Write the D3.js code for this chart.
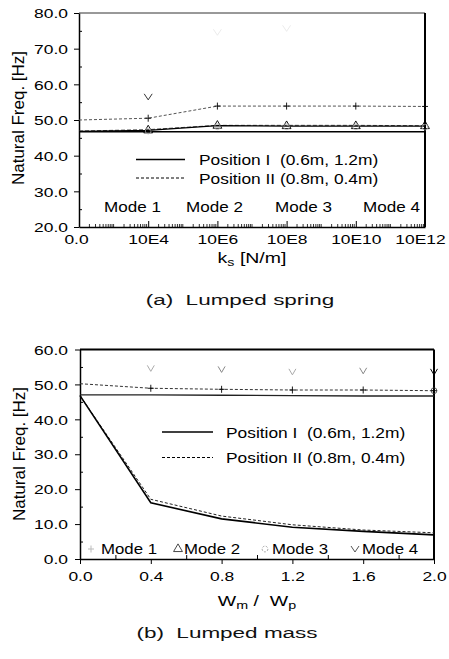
<!DOCTYPE html>
<html><head><meta charset="utf-8">
<script src="https://cdn.jsdelivr.net/npm/d3@7"></script>
<style>body{margin:0;background:#fff}svg{display:block}</style>
</head><body>
<script>
// ---------------- data ----------------
const springCats = ["0.0","10E4","10E6","10E8","10E10","10E12"];
const springP1Mode1 = [46.7,46.7,46.7,46.7,46.7,46.7];
const springP1Mode2 = [46.8,47.1,48.4,48.3,48.3,48.3];
const springP2Mode2 = [46.9,47.3,48.5,48.5,48.5,48.4];
const springP2Mode3 = [50.0,50.5,53.9,53.9,53.9,53.8];
const springMode4   = [null,56.5,74.6,75.7,null,null];
const springYTicks  = [20,30,40,50,60,70,80];

const massX        = [0,0.4,0.8,1.2,1.6,2.0];
const massP1Mode1  = [46.8,16.1,11.5,9.1,7.9,6.9];
const massP2Mode1  = [46.8,17.1,12.3,9.8,8.3,7.5];
const massP1Mode2  = [47.0,47.0,46.9,46.8,46.7,46.7];
const massP2Mode3  = [50.2,48.9,48.6,48.4,48.4,48.2];
const massMode3Pts = [null,null,null,null,null,48.2];
const massMode4    = [null,54.6,54.3,53.6,53.9,53.6];
const massXTicks   = [0,0.4,0.8,1.2,1.6,2.0];
const massYTicks   = [0,10,20,30,40,50,60];

const legendLines = ["Position I  (0.6m, 1.2m)","Position II (0.8m, 0.4m)"];
const modeNames   = ["Mode 1","Mode 2","Mode 3","Mode 4"];
const captions    = ["(a)  Lumped spring","(b)  Lumped mass"];

// ---------------- helpers ----------------
const FF = "'Liberation Sans', Arial, Helvetica, sans-serif";
const svg = d3.select("body").append("svg").attr("width",449).attr("height",659);

function T(parent, x, y, str, o = {}) {
  const g = parent.append("g").attr("transform", `translate(${x},${y}) scale(${o.sx||1},1)`);
  const t = g.append("text")
    .attr("font-family", o.ff || FF)
    .attr("font-size", o.fs || 13)
    .attr("text-anchor", o.anchor || "start")
    .attr("fill", o.fill || "#000")
    .style("white-space", "pre");
  if (o.ls) t.attr("letter-spacing", o.ls);
  if (str != null) t.text(str);
  return t;
}
const triUp = d3.symbol(d3.symbolTriangle, 34)();
const circ  = d3.symbol(d3.symbolCircle, 26)();
const plus  = "M-3,0H3M0,-3.5V3.5";

function markers(g, xs, ys, x, y, path, o = {}) {
  const pts = xs.map((xv, i) => [xv, ys[i]]).filter(d => d[1] != null);
  g.selectAll(null).data(pts).join("path")
    .attr("d", path)
    .attr("transform", d => `translate(${x(d[0])},${y(d[1])})`)
    .attr("fill", "none")
    .attr("stroke", (d, i) => (o.colors ? o.colors[i] : (o.stroke || "#000")))
    .attr("stroke-width", o.sw || 1);
}
function series(g, xs, ys, x, y, o = {}) {
  const line = d3.line().defined(d => d[1] != null).x(d => x(d[0])).y(d => y(d[1]));
  g.append("path").datum(xs.map((xv, i) => [xv, ys[i]]))
    .attr("d", line).attr("fill", "none")
    .attr("stroke", o.stroke || "#000")
    .attr("stroke-width", o.sw || 1.5)
    .attr("stroke-dasharray", o.dash || null);
}

// =============== (a) Lumped spring ===============
{
  const g = svg.append("g");
  const x = d3.scalePoint().domain(springCats).range([79, 425]);
  const xi = d3.scaleLinear().domain([0, springCats.length - 1]).range([79, 425]);
  const y = d3.scaleLinear().domain([20, 80]).range([227, 13]);

  g.append("line").attr("x1", 79).attr("x2", 425).attr("y1", 13).attr("y2", 13).attr("stroke", "#333").attr("stroke-width", 1);
  g.append("line").attr("x1", 425).attr("x2", 425).attr("y1", 13).attr("y2", 227).attr("stroke", "#000").attr("stroke-width", 2);

  const ya = g.append("g").attr("transform", "translate(79,0)")
    .call(d3.axisLeft(y).tickValues(springYTicks).tickSize(5).tickSizeOuter(0).tickPadding(11).tickFormat(d3.format(".1f")));
  ya.select(".domain").attr("stroke-width", 1.5);
  ya.selectAll("text").attr("font-family", FF).attr("font-size", 13).attr("fill", "#000")
    .attr("transform", "scale(1.34,1)").attr("x", -11 / 1.34).attr("dy", "0.36em");
  g.append("g").attr("transform", "translate(79,0)")
    .call(d3.axisLeft(y).tickValues(springYTicks.slice(0, -1).map(v => v + 5)).tickSize(-3).tickFormat(""))
    .select(".domain").remove();

  const xa = g.append("g").attr("transform", "translate(0,227)")
    .call(d3.axisBottom(x).tickSize(-6).tickSizeOuter(0).tickPadding(8));
  xa.select(".domain").attr("stroke-width", 1.5);
  xa.selectAll("text").attr("font-family", FF).attr("font-size", 13).attr("fill", "#000").attr("transform", "scale(1.34,1)")
    .attr("x", (d, i) => (i === springCats.length - 1 ? -5 / 1.34 : (i === 0 ? -3 / 1.34 : 0)));
  const minor = [];
  for (let i = 0; i < springCats.length - 1; i++)
    for (let d = 0; d < 2; d++)
      for (let k = (d === 0 ? 2 : 1); k <= 9; k++) minor.push(i + (d + Math.log10(k)) / 2);
  g.append("g").selectAll(null).data(minor).join("line")
    .attr("x1", d => xi(d)).attr("x2", d => xi(d)).attr("y1", 227).attr("y2", 224)
    .attr("stroke", "#000").attr("stroke-width", 0.8);

  const idx = springCats.slice();
  series(g, idx, springP1Mode1, x, y, { sw: 1.6 });
  series(g, idx, springP2Mode2, x, y, { sw: 1, dash: "4,2", stroke: "#444" });
  series(g, idx, springP1Mode2, x, y, { sw: 1.3 });
  series(g, idx, springP2Mode3, x, y, { sw: 1, dash: "3,2", stroke: "#555" });
  markers(g, idx, springP1Mode2.map((v, i) => i ? v : null), x, y, triUp, { sw: 0.9 });
  markers(g, idx, springP2Mode2.map((v, i) => i ? v - 0.4 : null), x, y, circ, { stroke: "#aaa", sw: 0.7 });
  markers(g, idx, springP2Mode3.map((v, i) => i ? v : null), x, y, plus, { sw: 0.9 });
  markers(g, idx, springMode4, x, y, "M-4,-3L0,3L4,-3", { colors: ["#000", "#e6e6e6", "#e6e6e6"], sw: 0.8 });

  g.append("line").attr("x1", 136).attr("x2", 185).attr("y1", 159.5).attr("y2", 159.5).attr("stroke", "#000").attr("stroke-width", 1.6);
  g.append("line").attr("x1", 136).attr("x2", 185).attr("y1", 178).attr("y2", 178).attr("stroke", "#000").attr("stroke-width", 1).attr("stroke-dasharray", "3,2");
  T(g, 199, 164.5, legendLines[0], { fs: 14, sx: 1.24 });
  T(g, 199, 183.5, legendLines[1], { fs: 14, sx: 1.24 });
  const mx = [104, 186, 275, 363];
  modeNames.forEach((m, i) => T(g, mx[i], 212, m, { fs: 14, sx: 1.22 }));

  const xt = T(g, 252, 263, null, { fs: 15, sx: 1.3, anchor: "middle" });
  xt.append("tspan").text("k");
  xt.append("tspan").attr("font-size", 11).attr("dy", 3).text("s");
  xt.append("tspan").attr("dy", -3).text(" [N/m]");
  svg.append("g").attr("transform", "translate(24,118) rotate(-90)")
    .append("text").attr("font-family", FF).attr("font-size", 17).attr("text-anchor", "middle").text("Natural Freq. [Hz]");

  T(svg, 240, 305, captions[0], { fs: 15, sx: 1.5, anchor: "middle", fill: "#111" });
}

// =============== (b) Lumped mass ===============
{
  const g = svg.append("g");
  const x = d3.scaleLinear().domain([0, 2]).range([80, 434]);
  const y = d3.scaleLinear().domain([0, 60]).range([559, 349.5]);

  g.append("line").attr("x1", 80).attr("x2", 434).attr("y1", 349.5).attr("y2", 349.5).attr("stroke", "#000").attr("stroke-width", 2.2);
  g.append("line").attr("x1", 434).attr("x2", 434).attr("y1", 349.5).attr("y2", 559).attr("stroke", "#000").attr("stroke-width", 2);

  const ya = g.append("g").attr("transform", "translate(80,0)")
    .call(d3.axisLeft(y).tickValues(massYTicks).tickSize(5).tickSizeOuter(0).tickPadding(12).tickFormat(d3.format(".1f")));
  ya.select(".domain").attr("stroke-width", 1.5);
  ya.selectAll("text").attr("font-family", FF).attr("font-size", 13).attr("fill", "#000")
    .attr("transform", "scale(1.34,1)").attr("x", -12 / 1.34).attr("dy", "0.36em");
  g.append("g").attr("transform", "translate(80,0)")
    .call(d3.axisLeft(y).tickValues(massYTicks.slice(0, -1).map(v => v + 5)).tickSize(-3).tickFormat(""))
    .select(".domain").remove();

  const xa = g.append("g").attr("transform", "translate(0,559)")
    .call(d3.axisBottom(x).tickValues(massXTicks).tickSize(5).tickSizeOuter(0).tickPadding(8).tickFormat(d3.format(".1f")));
  xa.select(".domain").attr("stroke-width", 1.5);
  xa.selectAll("text").attr("font-family", FF).attr("font-size", 13).attr("fill", "#000").attr("transform", "scale(1.34,1)");
  g.append("g").attr("transform", "translate(0,559)")
    .call(d3.axisBottom(x).tickValues(massXTicks.slice(0, -1).map(v => v + 0.2)).tickSize(-4).tickFormat(""))
    .select(".domain").remove();

  series(g, massX, massP1Mode2, x, y, { sw: 1.4, stroke: "#222" });
  series(g, massX, massP2Mode3, x, y, { sw: 1, dash: "3,2", stroke: "#333" });
  series(g, massX, massP2Mode1, x, y, { sw: 1, dash: "3,2", stroke: "#222" });
  series(g, massX, massP1Mode1, x, y, { sw: 1.6 });
  markers(g, massX, massP2Mode3.map((v, i) => i ? v : null), x, y, plus, { sw: 0.9 });
  markers(g, massX, massMode3Pts, x, y, circ, { sw: 0.8, stroke: "#333" });
  markers(g, massX, massMode4, x, y, "M-3.5,-3L0,3L3.5,-3", { colors: ["#aaa", "#888", "#aaa", "#888", "#000"], sw: 1 });

  g.append("line").attr("x1", 162).attr("x2", 213).attr("y1", 432).attr("y2", 432).attr("stroke", "#000").attr("stroke-width", 1.6);
  g.append("line").attr("x1", 162).attr("x2", 213).attr("y1", 457.5).attr("y2", 457.5).attr("stroke", "#000").attr("stroke-width", 1).attr("stroke-dasharray", "3,2");
  T(g, 226, 437.5, legendLines[0], { fs: 14, sx: 1.24 });
  T(g, 226, 463, legendLines[1], { fs: 14, sx: 1.24 });

  const lg = g.append("g");
  lg.append("path").attr("d", plus).attr("transform", "translate(91,549)").attr("stroke", "#bbb").attr("fill", "none");
  lg.append("path").attr("d", triUp).attr("transform", "translate(178,549)").attr("stroke", "#333").attr("fill", "none").attr("stroke-width", 0.9);
  lg.append("path").attr("d", circ).attr("transform", "translate(265,549)").attr("stroke", "#999").attr("fill", "none").attr("stroke-width", 0.9).attr("stroke-dasharray", "2,1.5");
  lg.append("path").attr("d", "M-4,-3L0,3L4,-3").attr("transform", "translate(355,549)").attr("stroke", "#555").attr("fill", "none");
  const tx = [101, 184, 272, 362];
  modeNames.forEach((m, i) => T(g, tx[i], 554, m, { fs: 14, sx: 1.2 }));

  const xt = T(g, 257, 606, null, { fs: 15, sx: 1.3, anchor: "middle" });
  xt.append("tspan").text("W");
  xt.append("tspan").attr("font-size", 11).attr("dy", 3).text("m");
  xt.append("tspan").attr("dy", -3).text(" /  W");
  xt.append("tspan").attr("font-size", 11).attr("dy", 3).text("p");

  svg.append("g").attr("transform", "translate(25,454) rotate(-90)")
    .append("text").attr("font-family", FF).attr("font-size", 17).attr("text-anchor", "middle").text("Natural Freq. [Hz]");

  T(svg, 227, 638, captions[1], { fs: 15, sx: 1.5, anchor: "middle", fill: "#111" });
}
</script>
</body></html>
